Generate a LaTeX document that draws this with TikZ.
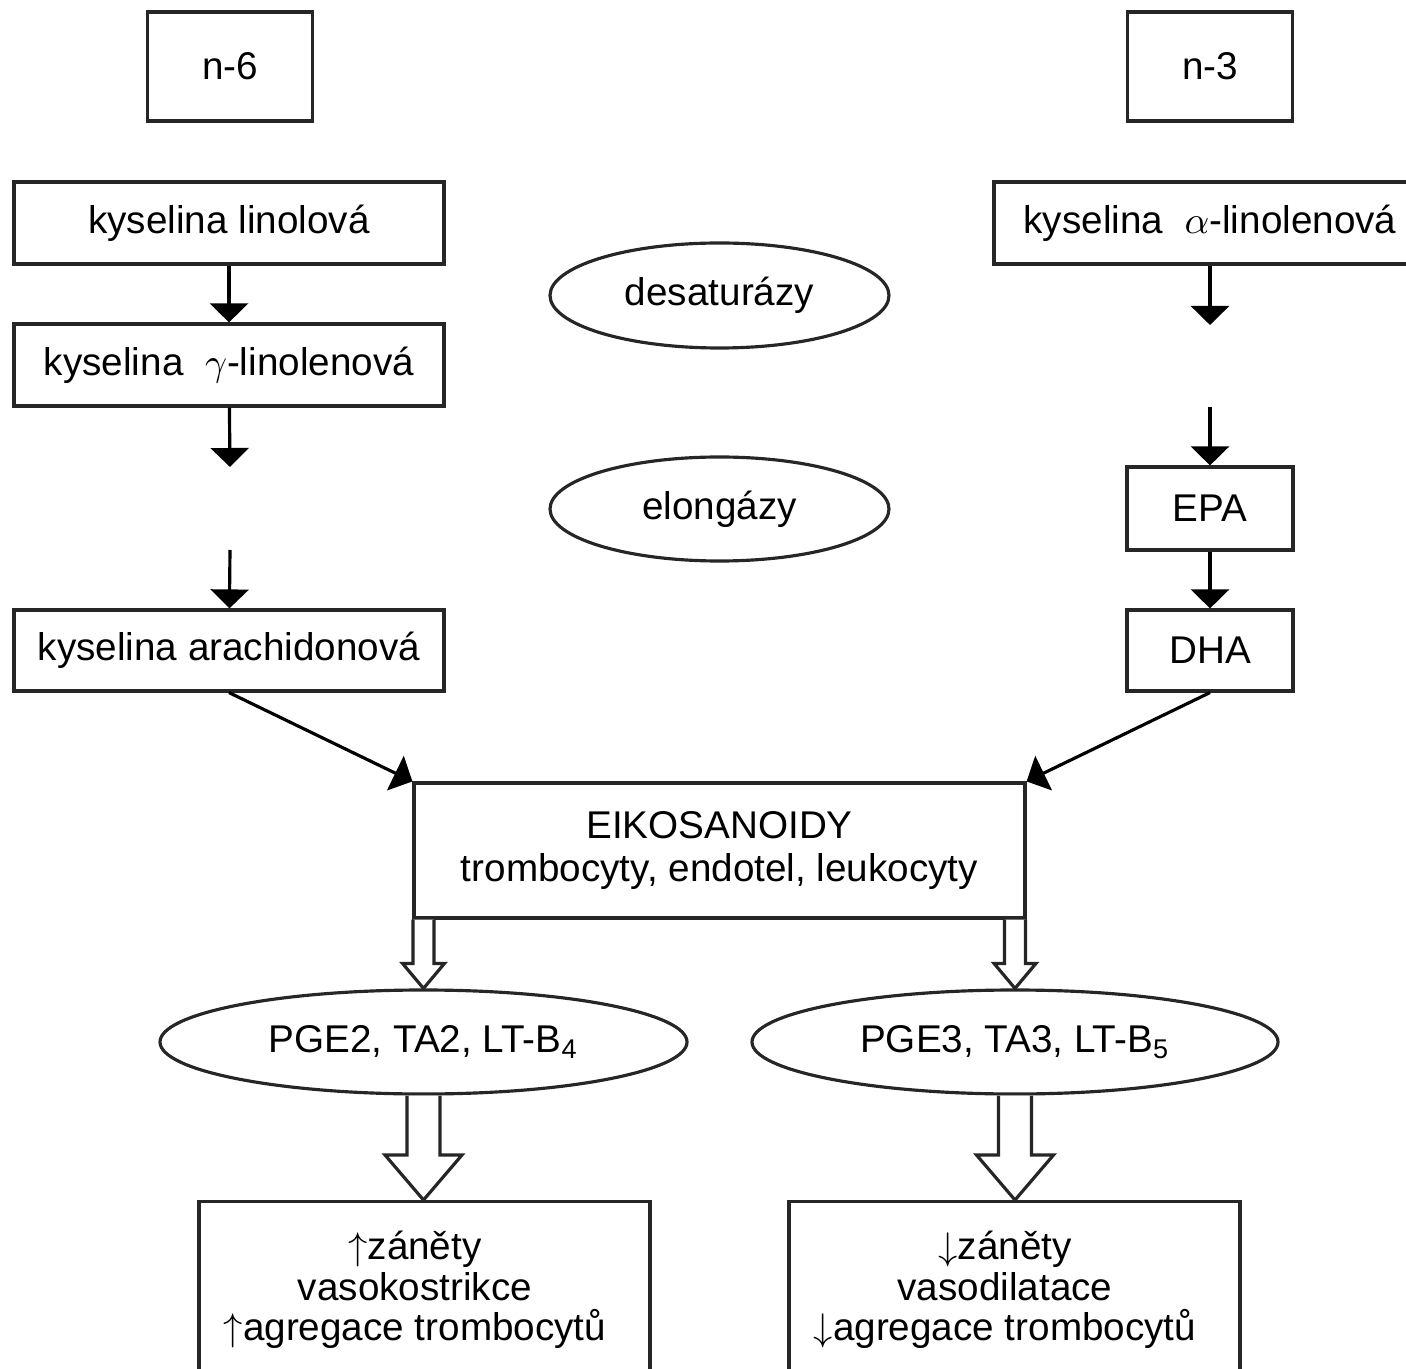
\documentclass[tikz,border=0pt]{standalone}
\usepackage{fontspec}
\setmainfont{Liberation Sans}
\usepackage{amsmath}
\usepackage{tikz}
\usetikzlibrary{arrows.meta,shapes,calc}
\usepgflibrary{shapes.geometric}

\tikzset{
	box/.style={draw=black!85, line width=0.9pt, rectangle, align=center, inner sep=0pt,
		font=\fontsize{11}{12}\selectfont},
	oval/.style={draw=black!85, line width=0.9pt, ellipse, inner sep=0pt,
		font=\fontsize{11}{12}\selectfont},
	thin arr/.style={line width=0.9pt, -{Triangle[width=0.38cm,length=0.19cm]}},
	hollow arr/.style={draw=black!85, line width=0.9pt, fill=white, line join=miter}
}

% hollow block arrow: from, to, half shaft, half head, head length
\newcommand{\hollowarrow}[5]{%
	\draw[hollow arr] let \p1=(#1), \p2=(#2) in
		(\x1-#3,\y1) -- (\x1-#3,\y2+#5) -- (\x1-#4,\y2+#5) -- (\x1,\y2)
		-- (\x1+#4,\y2+#5) -- (\x1+#3,\y2+#5) -- (\x1+#3,\y1);
}

\begin{document}
\begin{tikzpicture}
	
	\useasboundingbox (0,0) rectangle (14.06,-13.69);
	\clip (0,0) rectangle (14.06,-13.69);
	
	% n-6 side
	\node[box, minimum width=1.65cm, minimum height=1.09cm] (n6) at (2.30,-0.665) {n-6};
	\node[box, minimum width=4.30cm, minimum height=0.82cm] (lin) at (2.29,-2.23) {kyselina linolová};
	\node[box, minimum width=4.30cm, minimum height=0.82cm] (gla) at (2.29,-3.65) {kyselina \ $\gamma$-linolenová};
	\node[box, minimum width=4.30cm, minimum height=0.81cm] (ara) at (2.29,-6.505) {kyselina arachidonová};
	
	% n-3 side
	\node[box, minimum width=1.65cm, minimum height=1.09cm] (n3) at (12.10,-0.665) {n-3};
	\node[box, minimum width=4.32cm, minimum height=0.82cm] (ala) at (12.10,-2.23) {kyselina \ $\alpha$-linolenová};
	\node[box, minimum width=1.66cm, minimum height=0.83cm] (epa) at (12.10,-5.085) {EPA};
	\node[box, minimum width=1.66cm, minimum height=0.81cm] (dha) at (12.10,-6.505) {DHA};
	
	% enzymes
	\node[oval, minimum width=3.39cm, minimum height=1.05cm] (desat) at (7.195,-2.955) {desaturázy};
	\node[oval, minimum width=3.39cm, minimum height=1.04cm] (elong) at (7.195,-5.09) {elongázy};
	
	\node[box, minimum width=6.11cm, minimum height=1.35cm] (eik) at (7.195,-8.505)
		{EIKOSANOIDY\\trombocyty, endotel, leukocyty};
	
	\node[oval, minimum width=5.27cm, minimum height=1.04cm] (pgea) at (4.235,-10.42) {PGE2, TA2, LT-B\textsubscript{4}};
	\node[oval, minimum width=5.26cm, minimum height=1.04cm] (pgeb) at (10.15,-10.42) {PGE3, TA3, LT-B\textsubscript{5}};
	
	\node[box, minimum width=4.51cm, minimum height=2.40cm, anchor=north] (resa) at (4.245,-12.00)
		{};
	\node[box, minimum width=4.51cm, minimum height=2.40cm, anchor=north] (resb) at (10.145,-12.00)
		{};
	\node[align=center, font=\fontsize{11}{11.5}\selectfont] (txta) at (4.15,-12.90)
		{$\uparrow$záněty\\vasokostrikce\\$\uparrow$agregace trombocytů};
	\node[align=center, font=\fontsize{11}{11.5}\selectfont] (txtb) at (10.05,-12.90)
		{$\downarrow$záněty\\vasodilatace\\$\downarrow$agregace trombocytů};
	
	% free ends of the broken arrows
	\coordinate (ga) at (2.30,-4.67);
	\coordinate (gb) at (2.30,-5.50);
	\coordinate (aa) at (12.10,-3.25);
	\coordinate (ab) at (12.10,-4.07);
	
	\draw[thin arr] (lin) -- (gla);
	\draw[thin arr] (gla) -- (ga);
	\draw[thin arr] (gb) -- (ara);
	\draw[thin arr] (ala) -- (aa);
	\draw[thin arr] (ab) -- (epa);
	\draw[thin arr] (epa) -- (dha);
	\draw[thin arr] (ara.south) -- (eik.north west);
	\draw[thin arr] (dha.south) -- (eik.north east);
	
	\hollowarrow{pgea |- eik.south}{pgea.north}{0.105cm}{0.21cm}{0.25cm}
	\hollowarrow{pgeb |- eik.south}{pgeb.north}{0.105cm}{0.21cm}{0.25cm}
	\hollowarrow{pgea.south}{resa.north}{0.165cm}{0.385cm}{0.45cm}
	\hollowarrow{pgeb.south}{resb.north}{0.165cm}{0.385cm}{0.45cm}
	
\end{tikzpicture}
\end{document}
